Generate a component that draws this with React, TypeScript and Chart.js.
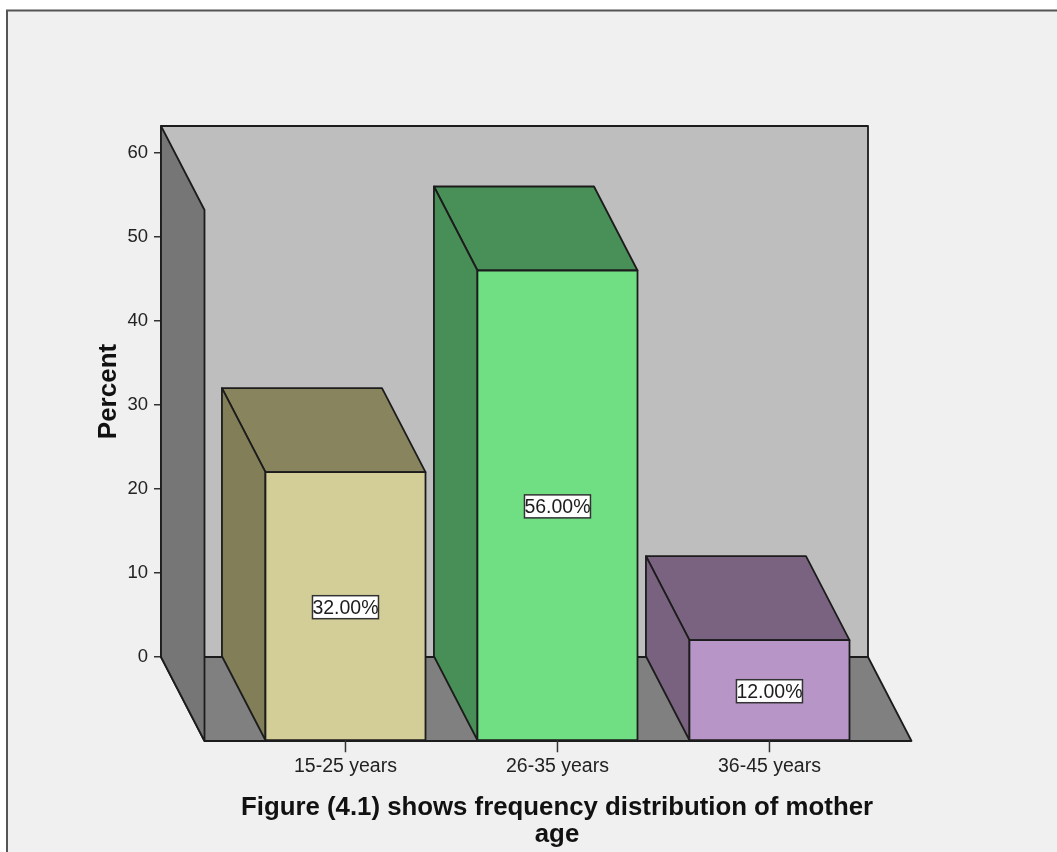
import React, { useEffect, useRef } from "react";
import { Chart, registerables } from "chart.js";

Chart.register(...registerables);

const categories = ["15-25 years", "26-35 years", "36-45 years"];
const percents = [32, 56, 12];
const positions = [1, 2, 3];
const frontColors = ["#d3ce97", "#70df84", "#b795c6"];
const sideColors = ["#817e58", "#488f57", "#79627f"];
const topColors = ["#87845e", "#498f58", "#7a6381"];
const yTicks = [0, 10, 20, 30, 40, 50, 60];
const yTitle = "Percent";
const titleLines = ["Figure (4.1) shows frequency distribution of mother", "age"];

const FONT = '"Liberation Sans", Arial, sans-serif';
const INK = "#1c1c1c";
const DEPTH_X = 43.5;
const DEPTH_Y = 84;

function poly(ctx: CanvasRenderingContext2D, pts: number[][], fill: string) {
  ctx.beginPath();
  pts.forEach(([x, y], i) => (i ? ctx.lineTo(x, y) : ctx.moveTo(x, y)));
  ctx.closePath();
  ctx.fillStyle = fill;
  ctx.fill();
  ctx.lineWidth = 1.8;
  ctx.strokeStyle = INK;
  ctx.lineJoin = "round";
  ctx.stroke();
}

const scene = {
  id: "scene3d",
  beforeDraw(chart: any) {
    const { ctx, width, height } = chart;
    ctx.save();
    ctx.fillStyle = "#ffffff";
    ctx.fillRect(0, 0, width, height);
    ctx.fillStyle = "#f0f0f0";
    ctx.fillRect(6, 10, width - 6, height - 10);
    ctx.strokeStyle = "#555555";
    ctx.lineWidth = 2;
    ctx.beginPath();
    ctx.moveTo(7, height);
    ctx.lineTo(7, 10.5);
    ctx.lineTo(width, 10.5);
    ctx.stroke();
    ctx.restore();
  },
  beforeDatasetsDraw(chart: any) {
    const { ctx, chartArea: a } = chart;
    const { left: l, right: r, top: t, bottom: b } = a;
    ctx.save();
    poly(ctx, [[l, t], [r, t], [r, b], [l, b]], "#bebebe");
    poly(ctx, [[l, b], [r, b], [r + DEPTH_X, b + DEPTH_Y], [l + DEPTH_X, b + DEPTH_Y]], "#808080");
    poly(ctx, [[l, t], [l + DEPTH_X, t + DEPTH_Y], [l + DEPTH_X, b + DEPTH_Y], [l, b]], "#767676");
    ctx.restore();
  },
  beforeDatasetDraw(chart: any, args: any) {
    const { ctx } = chart;
    ctx.save();
    args.meta.data.forEach((el: any, i: number) => {
      const { x, y, base, width } = el.getProps(["x", "y", "base", "width"], true);
      const x1 = x - width / 2;
      const x2 = x + width / 2;
      poly(ctx, [[x1, y], [x2, y], [x2 + DEPTH_X, y + DEPTH_Y], [x1 + DEPTH_X, y + DEPTH_Y]], topColors[i]);
      poly(ctx, [[x1, y], [x1 + DEPTH_X, y + DEPTH_Y], [x1 + DEPTH_X, base + DEPTH_Y], [x1, base]], sideColors[i]);
      poly(
        ctx,
        [[x1 + DEPTH_X, y + DEPTH_Y], [x2 + DEPTH_X, y + DEPTH_Y], [x2 + DEPTH_X, base + DEPTH_Y], [x1 + DEPTH_X, base + DEPTH_Y]],
        frontColors[i]
      );
      // tick under the front edge
      ctx.strokeStyle = "#333333";
      ctx.lineWidth = 1.5;
      ctx.beginPath();
      ctx.moveTo(x + DEPTH_X, base + DEPTH_Y);
      ctx.lineTo(x + DEPTH_X, base + DEPTH_Y + 12);
      ctx.stroke();
    });
    ctx.restore();
    return false;
  },
  afterDatasetsDraw(chart: any) {
    const { ctx } = chart;
    const meta = chart.getDatasetMeta(0);
    ctx.save();
    meta.data.forEach((el: any, i: number) => {
      const { x, y, base } = el.getProps(["x", "y", "base"], true);
      const cx = x + DEPTH_X;
      const cy = (y + base) / 2 + DEPTH_Y + 1;
      const text = percents[i].toFixed(2) + "%";
      ctx.font = `19.5px ${FONT}`;
      const w = 66;
      const h = 23;
      ctx.fillStyle = "#ffffff";
      ctx.fillRect(cx - w / 2, cy - h / 2, w, h);
      ctx.strokeStyle = "#333333";
      ctx.lineWidth = 1.5;
      ctx.strokeRect(cx - w / 2, cy - h / 2, w, h);
      ctx.fillStyle = INK;
      ctx.textAlign = "center";
      ctx.textBaseline = "middle";
      ctx.fillText(text, cx, cy + 1);
    });
    ctx.restore();
  },
  afterDraw(chart: any) {
    const { ctx } = chart;
    ctx.save();
    ctx.font = `bold 25.8px ${FONT}`;
    ctx.fillStyle = "#111111";
    ctx.textAlign = "center";
    ctx.textBaseline = "middle";
    ctx.fillText(titleLines[0], 557, 808);
    ctx.fillText(titleLines[1], 557, 835);
    ctx.restore();
  },
};

export default function App() {
  const ref = useRef<HTMLCanvasElement | null>(null);
  useEffect(() => {
    if (!ref.current) return;
    const chart = new Chart(ref.current, {
      type: "bar",
      data: {
        datasets: [
          {
            label: yTitle,
            data: positions.map((x, i) => ({ x, y: percents[i] })),
            backgroundColor: frontColors,
            categoryPercentage: 1,
            barPercentage: 0.755,
          },
        ],
      },
      options: {
        responsive: false,
        animation: false,
        layout: { padding: { left: 93, right: 189, top: 126, bottom: 0 } },
        plugins: { legend: { display: false }, title: { display: false }, tooltip: { enabled: false } },
        scales: {
          x: {
            type: "linear",
            offset: false,
            min: 0.335,
            max: 3.67,
            grid: { display: false, drawTicks: false, offset: false },
            border: { display: false },
            afterFit: (s: any) => {
              s.height = 195;
            },
            afterBuildTicks: (s: any) => {
              s.ticks = positions.map((value) => ({ value }));
            },
            ticks: {
              autoSkip: false,
              maxRotation: 0,
              labelOffset: DEPTH_X,
              padding: 98,
              color: "#222222",
              font: { family: FONT, size: 19.5 },
              callback: (_v: any, i: number) => categories[i],
            },
          },
          y: {
            min: 0,
            max: 63.2,
            afterFit: (s: any) => {
              s.width = 68;
            },
            afterBuildTicks: (s: any) => {
              s.ticks = yTicks.map((value) => ({ value }));
            },
            grid: { drawOnChartArea: false, drawTicks: true, tickLength: 7, tickColor: "#333333", lineWidth: 1.5 },
            border: { display: false },
            title: {
              display: true,
              text: yTitle,
              color: "#111111",
              padding: 0,
              font: { family: FONT, size: 26, weight: "bold" },
            },
            ticks: {
              padding: 6,
              color: "#222222",
              font: { family: FONT, size: 18.5 },
            },
          },
        },
      },
      plugins: [scene],
    } as any);
    return () => chart.destroy();
  }, []);
  return (
    <canvas
      ref={ref}
      width={1057}
      height={852}
      style={{ position: "fixed", left: 0, top: 0, display: "block" }}
    />
  );
}
